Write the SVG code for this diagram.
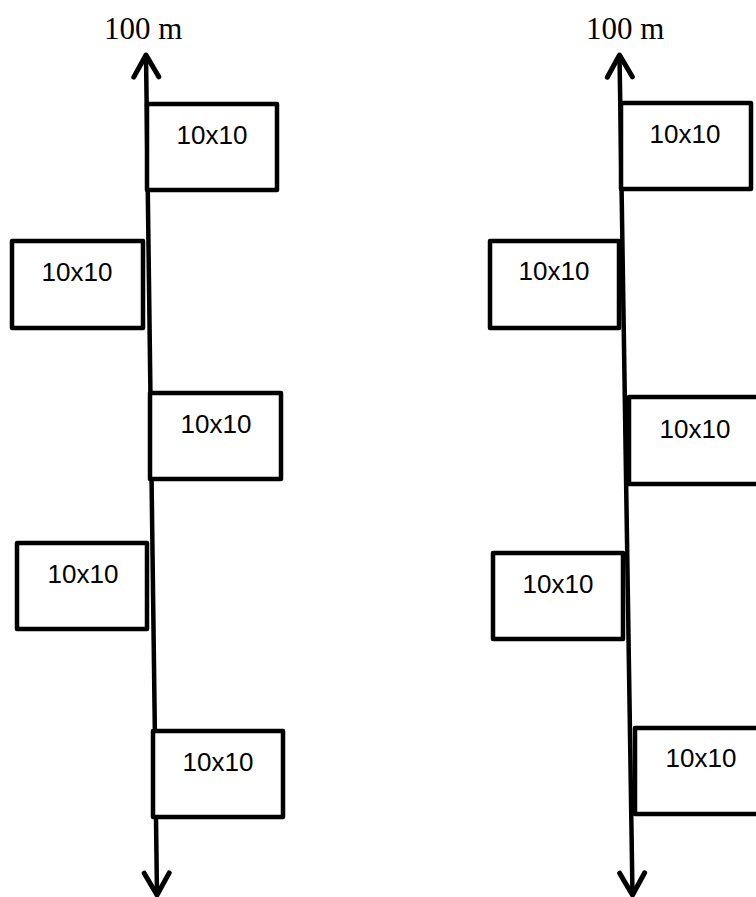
<svg xmlns="http://www.w3.org/2000/svg" width="756" height="897" viewBox="0 0 756 897">
<style>
.box{fill:#fff;stroke:#000;stroke-width:4.5;stroke-linejoin:round}
.lbl{font-family:"Liberation Sans",Arial,sans-serif;font-size:26px;fill:#000;text-anchor:middle}
.ttl{font-family:"Liberation Serif","Times New Roman",serif;font-size:31px;fill:#000}
.axis{fill:none;stroke:#000;stroke-width:4.5;marker-start:url(#ah);marker-end:url(#ah)}
</style>
<defs>
<marker id="ah" markerUnits="userSpaceOnUse" viewBox="-30 -20 40 40" refX="0" refY="0" markerWidth="40" markerHeight="40" orient="auto-start-reverse" overflow="visible">
<path d="M-22,-12.5 L0,0 L-22,12.5" fill="none" stroke="#000" stroke-width="5" stroke-linecap="round" stroke-linejoin="round"/>
</marker>
</defs>
<rect width="756" height="897" fill="#fff"/>
<g id="connectors">
<path class="axis" d="M146,55 L157,895"/>
<path class="axis" d="M619.5,55 L632.5,895"/>
</g>
<g id="title-left"><text class="ttl" x="104" y="38.5">100 m</text></g>
<g id="title-right"><text class="ttl" x="586" y="38.5">100 m</text></g>
<g id="L1"><rect class="box" x="147" y="104" width="130" height="86"/><text class="lbl" x="212" y="144">10x10</text></g>
<g id="L2"><rect class="box" x="12" y="241" width="131" height="87"/><text class="lbl" x="77" y="281">10x10</text></g>
<g id="L3"><rect class="box" x="150" y="393" width="131" height="86"/><text class="lbl" x="216" y="433">10x10</text></g>
<g id="L4"><rect class="box" x="17" y="543" width="130" height="86"/><text class="lbl" x="83" y="583">10x10</text></g>
<g id="L5"><rect class="box" x="153" y="731" width="130" height="86"/><text class="lbl" x="218" y="771">10x10</text></g>
<g id="R1"><rect class="box" x="621" y="103" width="130" height="86"/><text class="lbl" x="685" y="143">10x10</text></g>
<g id="R2"><rect class="box" x="490" y="241" width="129" height="87"/><text class="lbl" x="554" y="280">10x10</text></g>
<g id="R3"><rect class="box" x="629" y="397" width="131" height="87"/><text class="lbl" x="695" y="438">10x10</text></g>
<g id="R4"><rect class="box" x="493" y="553" width="130" height="86"/><text class="lbl" x="558" y="593">10x10</text></g>
<g id="R5"><rect class="box" x="635" y="728" width="131" height="86"/><text class="lbl" x="701" y="767">10x10</text></g>
</svg>
